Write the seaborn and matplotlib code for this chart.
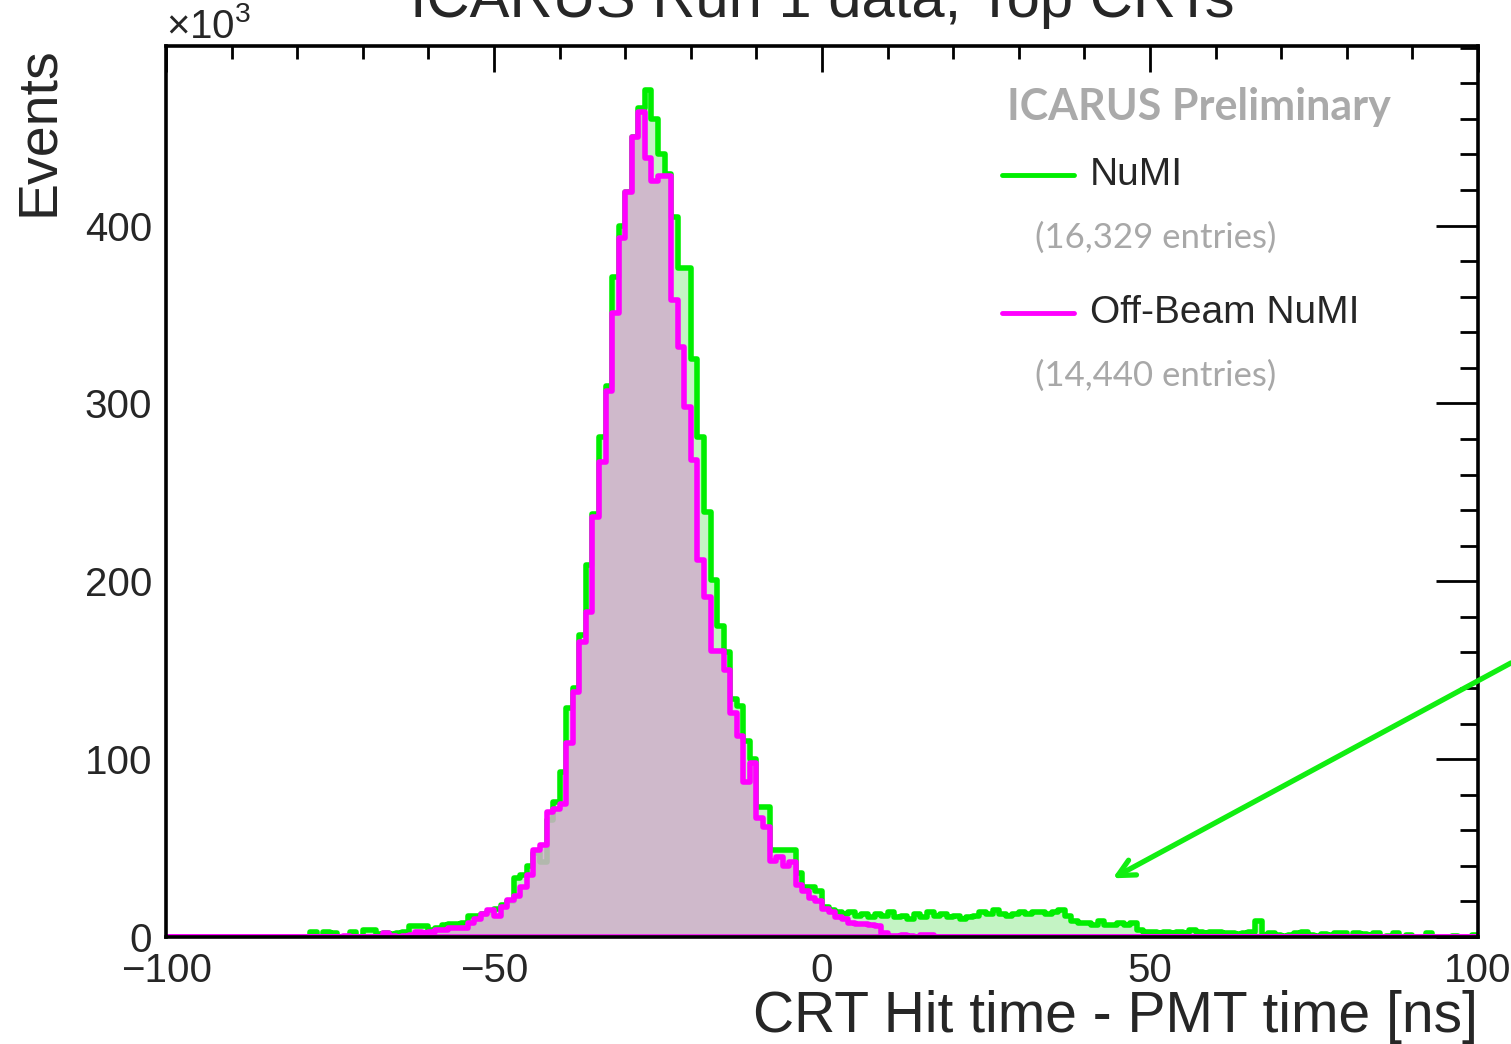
import numpy as np
import matplotlib
matplotlib.use("Agg")
import matplotlib.pyplot as plt
import seaborn as sns
from matplotlib.ticker import MultipleLocator, FixedLocator

sns.set_style("white")
plt.rcParams["font.family"] = ["Liberation Sans", "DejaVu Sans"]
plt.rcParams["mathtext.default"] = "regular"

# CRT hit time - PMT time, 1 ns bins from -100 to 100, counts in units of 10^3
bin_lo, bin_hi, n_bins = -100, 100, 200

numi = [
    0, 0, 0, 0, 0, 0, 0, 0, 0, 0,
    0, 0, 0, 0, 0, 0, 0, 0, 0, 0,
    0, 0, 3, 0, 3, 2.5, 0, 0, 3, 0,
    4, 4, 1.5, 2, 1.5, 2, 3, 6, 6, 6,
    4, 5, 7, 7.5, 7.5, 8, 12, 12, 13, 14,
    16, 18, 20, 33, 35, 40, 47, 42, 66, 76,
    93, 129, 140, 170, 209, 238, 281, 310, 371, 400,
    419, 450, 466, 476, 460, 440, 429, 405, 376, 376,
    325, 281, 239, 201, 175, 160, 134, 130, 110, 100,
    73, 73, 49, 49, 49, 49, 36, 28, 28, 26,
    17, 15, 14, 13, 14, 12, 13, 11, 13, 12,
    14, 11, 12, 10, 13, 11, 14, 12, 13, 11,
    12, 10, 11, 12, 14, 13, 15, 13, 12, 13,
    14, 13, 14, 14, 13, 14, 15, 12, 9, 8,
    8, 7, 9, 7, 7, 8, 7, 8, 4, 3,
    3, 2, 3, 2, 3, 2, 4, 3, 2, 3,
    3, 2, 2, 1.5, 2, 3, 9, 1, 2, 1,
    0.5, 1, 2, 3, 1, 0.5, 1.5, 1, 2, 2,
    0, 2, 1.5, 1, 2, 0, 0.5, 2, 0, 1,
    0, 0, 2, 0, 0, 0, 0.5, 0, 0, 1,
]

offbeam = [
    0, 0, 0, 0, 0, 0, 0, 0, 0, 0,
    0, 0, 0, 0, 0, 0, 0, 0, 0, 0,
    0, 0, 0, 0, 0, 0, 0, 0.3, 0, 0,
    0, 0, 0, 2, 0.5, 0, 0.5, 1, 3, 2,
    3, 4, 4, 5, 5, 5, 8, 10, 13, 15,
    12, 17, 21, 23, 28, 35, 49, 52, 70, 72,
    75, 109, 138, 166, 183, 236, 267, 307, 351, 393,
    419, 450, 464, 438, 425, 428, 428, 358, 332, 298,
    268, 212, 191, 161, 161, 150, 126, 113, 87, 98,
    67, 62, 43, 45, 40, 42, 29, 26, 22, 20,
    16, 14, 11, 10, 8, 7.5, 7.5, 7, 6, 2,
    0.5, 0.3, 1, 0.5, 0.2, 1, 1, 0.2, 0, 0,
    0, 0, 0, 0, 0, 0, 0, 0, 0, 0,
    0, 0, 0, 0, 0, 0, 0, 0, 0, 0,
    0, 0, 0, 0, 0, 0, 0, 0, 0, 0,
    0, 0, 0, 0, 0, 0, 0, 0, 0, 0,
    0, 0, 0, 0, 0, 0, 0, 0, 0, 0,
    0, 0, 0, 0, 0, 0, 0, 0, 0, 0,
    0, 0, 0, 0, 0, 0, 0, 0, 0, 0,
    0, 0, 0, 0, 0, 0, 0, 0, 0, 0,
]

labels = ["NuMI", "Off-Beam NuMI"]
entries = ["(16,329 entries)", "(14,440 entries)"]
y_major = [0, 100, 200, 300, 400]

edges = np.linspace(bin_lo, bin_hi, n_bins + 1)
centers = 0.5 * (edges[:-1] + edges[1:])
bin_list = edges.tolist()

fig = plt.figure(figsize=(15.11, 10.44), dpi=100)
ax = fig.add_axes([0.1099, 0.1025, 0.8683, 0.8535])

green = "#00ee00"
magenta = "#ff00ff"

sns.histplot(x=centers, weights=numi, bins=bin_list, element="step", fill=True,
             facecolor="#c4f3c4", edgecolor=green, linewidth=4.0, ax=ax)
sns.histplot(x=centers, weights=offbeam, bins=bin_list, element="step", fill=True,
             facecolor=(210 / 255, 175 / 255, 205 / 255, 0.85), edgecolor=magenta,
             linewidth=4.0, ax=ax)

ax.set_xlim(-100, 100)
ax.set_ylim(0, 501)

ax.xaxis.set_major_locator(MultipleLocator(50))
ax.xaxis.set_minor_locator(MultipleLocator(10))
ax.yaxis.set_major_locator(FixedLocator(y_major))
ax.yaxis.set_minor_locator(MultipleLocator(20))

ax.tick_params(axis="both", which="both", direction="in", top=True, right=True,
               width=2, color="black")
ax.tick_params(axis="y", which="major", length=30, labelsize=29, pad=10)
ax.tick_params(axis="y", which="minor", length=13)
ax.tick_params(axis="x", which="major", length=19, labelsize=29, pad=11)
ax.tick_params(axis="x", which="minor", length=9)

for s in ax.spines.values():
    s.set_linewidth(2.6)
    s.set_color("black")

ax.set_xlabel("CRT Hit time - PMT time [ns]", fontsize=41, loc="right", labelpad=0)
ax.set_ylabel("Events", fontsize=40, loc="top", labelpad=14)

ax.text(0.0, 1.0, "×10$^{3}$", transform=ax.transAxes, fontsize=29,
        ha="left", va="bottom")

fig.text(0.544, 0.984, "ICARUS Run 1 data, Top CRTs", ha="center", va="baseline",
         fontsize=43)

# legend block
ax.text(0.641, 0.9315, "ICARUS Preliminary", transform=ax.transAxes,
        fontsize=31, fontweight="bold", color="#aaaaaa", family="Lato",
        ha="left", va="center")
for lab, ent, col, yl, ye in zip(labels, entries, [green, magenta],
                                 [0.855, 0.700], [0.7845, 0.6296]):
    ax.plot([0.637, 0.692], [yl, yl], transform=ax.transAxes, color=col, lw=3.5)
    ax.text(0.704, yl, lab, transform=ax.transAxes, fontsize=28,
            ha="left", va="center")
    ax.text(0.662, ye, ent, transform=ax.transAxes, fontsize=25,
            color="#a8a8a8", family="Lato", ha="left", va="center")

ax.annotate("", xy=(44.3, 33), xycoords="data",
            xytext=(1.0, 0.365), textcoords="figure fraction",
            arrowprops=dict(arrowstyle="->,head_length=1.2,head_width=0.6",
                            color="#11ee11", lw=3.8, shrinkA=0, shrinkB=0),
            annotation_clip=False)

fig.savefig("out.png", dpi=100, facecolor="white")
